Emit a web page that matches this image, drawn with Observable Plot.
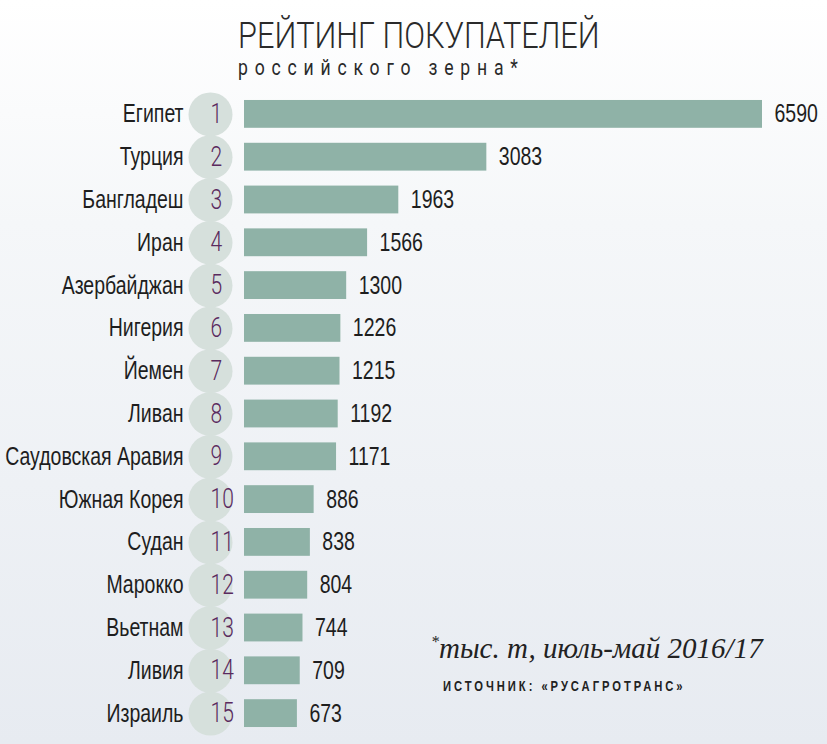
<!DOCTYPE html>
<html><head><meta charset="utf-8">
<script src="https://cdn.jsdelivr.net/npm/d3@7"></script>
<script src="https://cdn.jsdelivr.net/npm/@observablehq/plot@0.6"></script>
<style>
html,body{margin:0;padding:0;}
#wrap{position:relative;width:827px;height:744px;overflow:hidden;
 background:linear-gradient(to bottom,#ffffff 0%,#f5f7f9 30%,#e7ebf1 100%);}
#chart{position:absolute;left:0;top:0;}
.t{position:absolute;white-space:nowrap;transform-origin:0 0;line-height:1;}
#title{left:238px;top:17px;font-family:Roboto,"Liberation Sans",sans-serif;font-size:37px;font-weight:300;color:#2a2a2a;transform:scaleX(0.83);}
#sub{left:238px;top:57px;font-family:Roboto,"Liberation Sans",sans-serif;font-size:22px;font-weight:400;color:#2a2a2a;letter-spacing:8.5px;transform:scaleX(0.8);}
#note{left:431px;top:634px;font-family:"Liberation Serif","DejaVu Serif",serif;font-style:italic;font-size:29px;color:#222;}
#src{left:443px;top:679px;font-family:"Liberation Sans","DejaVu Sans",sans-serif;font-weight:bold;font-size:14px;color:#222;letter-spacing:3.7px;transform:scaleX(0.8);}
</style></head>
<body>
<div id="wrap">
<div id="chart"></div>
<div class="t" id="title">РЕЙТИНГ ПОКУПАТЕЛЕЙ</div>
<div class="t" id="sub">российского зерна*</div>
<div class="t" id="note"><span style="font-size:16px;vertical-align:top">*</span>тыс. т, июль-май 2016/17</div>
<div class="t" id="src">ИСТОЧНИК: «РУСАГРОТРАНС»</div>
</div>
<script>
const countries = ["Египет","Турция","Бангладеш","Иран","Азербайджан","Нигерия","Йемен","Ливан","Саудовская Аравия","Южная Корея","Судан","Марокко","Вьетнам","Ливия","Израиль"];
const values = [6590,3083,1963,1566,1300,1226,1215,1192,1171,886,838,804,744,709,673];
const ranks = [1,2,3,4,5,6,7,8,9,10,11,12,13,14,15];

const data = countries.map((c,i)=>({country:c, value:values[i], rank:ranks[i]}));
const font = '"Liberation Sans","Arimo",sans-serif';

const chart = Plot.plot({
  width:827, height:744,
  marginLeft:244, marginRight:65, marginTop:85, marginBottom:2,
  style:{background:"transparent", fontFamily:font, overflow:"visible"},
  x:{domain:[0,6590], axis:null},
  y:{domain:countries, padding:0.35, round:false, axis:null},
  marks:[
    Plot.text(data,{y:"country", text:"country", frameAnchor:"left", dx:-61, textAnchor:"end", fontSize:25, fill:"#1e1e1e", className:"cond"}),
    Plot.dot(data,{y:"country", frameAnchor:"left", dx:-34, r:22, fill:"#d6e0dc", stroke:"none"}),
    Plot.text(data,{y:"country", text:"rank", frameAnchor:"left", dx:-34, fontSize:27, fontWeight:300, fontFamily:"Roboto", fill:"#5a2a5e", className:"cond"}),
    Plot.barX(data,{y:"country", x:"value", fill:"#8fb2a7"}),
    Plot.text(data,{y:"country", x:"value", text:d=>String(d.value), textAnchor:"start", dx:12, fontSize:25, fill:"#1e1e1e", className:"cond"})
  ]
});
// horizontally condense the text (the reference uses a condensed typeface)
chart.querySelectorAll(".cond text").forEach(t=>{
  let x = parseFloat(t.getAttribute("x")); if (!isFinite(x)) x = 0;
  const tr = t.getAttribute("transform")||"";
  t.setAttribute("transform", `${tr} translate(${x},0) scale(0.78,1) translate(${-x},0)`);
});
document.getElementById("chart").appendChild(chart);
</script>
</body></html>
